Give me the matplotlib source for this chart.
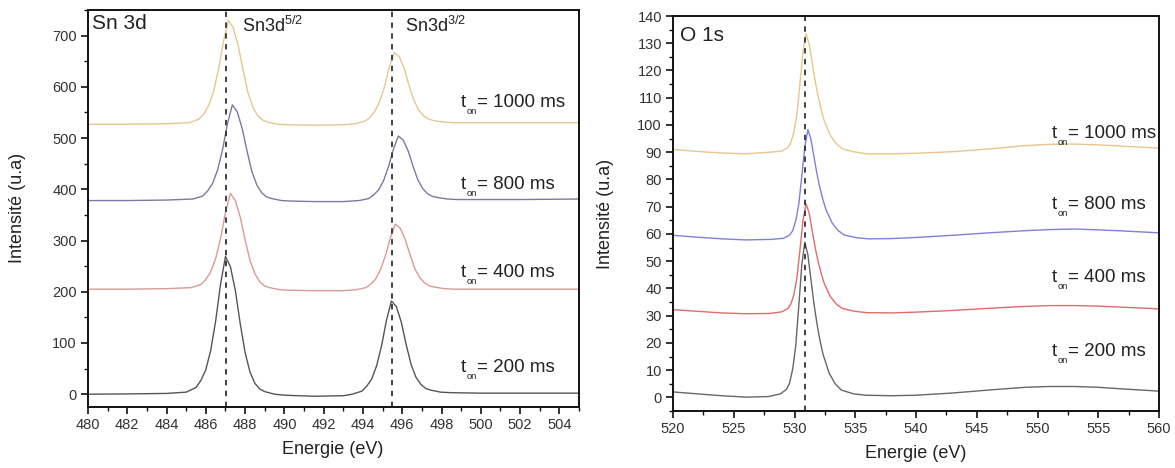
import matplotlib
matplotlib.use("Agg")
import matplotlib.pyplot as plt
from matplotlib.ticker import MultipleLocator

plt.rcParams['font.family'] = ['Liberation Sans', 'DejaVu Sans']
plt.rcParams['mathtext.fontset'] = 'custom'
plt.rcParams['mathtext.rm'] = 'Liberation Sans'
plt.rcParams['mathtext.it'] = 'Liberation Sans:italic'

# ---------------- Sn 3d data ----------------
sn_x_200 = [480, 482, 484, 485.0, 485.5, 485.75, 486.0, 486.25, 486.5, 486.75, 487.0, 487.25, 487.5, 487.75, 488.0,
            488.25, 488.5, 488.75, 489.0, 489.5, 490.0, 491.5, 493.0, 493.45, 493.95, 494.2, 494.45, 494.7, 494.95,
            495.2, 495.45, 495.7, 495.95, 496.2, 496.45, 496.7, 496.95, 497.2, 497.45, 497.95, 498.45, 500, 502, 505]
sn_y_200 = [0, 0.5, 1.5, 4, 13, 27, 48, 86, 143, 215, 269, 249, 203, 138, 81,
            43, 21, 10, 5, 0, -2, -4, -3, 0, 6, 16, 30, 56, 95,
            145, 182, 171, 141, 97, 58, 33, 19, 11, 8, 4, 3, 2, 2, 2]

sn_x_400 = [480, 482, 484, 485.25, 485.75, 486.0, 486.25, 486.5, 486.75, 487.0, 487.25, 487.5, 487.75, 488.0, 488.25,
            488.5, 488.75, 489.0, 489.25, 489.75, 490.25, 491.5, 493.0, 493.65, 494.15, 494.4, 494.65, 494.9, 495.15,
            495.4, 495.65, 495.9, 496.15, 496.4, 496.65, 496.9, 497.15, 497.4, 497.65, 498.15, 498.65, 500, 502, 505]
sn_y_400 = [205, 205, 206, 208, 214, 224, 239, 265, 304, 355, 392, 378, 346, 301, 261,
            235, 219, 211, 208, 204, 203, 202, 202, 204, 208, 215, 225, 244, 271,
            306, 332, 324, 302, 272, 244, 227, 217, 211, 209, 206, 205, 205, 205, 205]

sn_x_800 = [480, 482, 484, 485.35, 485.85, 486.1, 486.35, 486.6, 486.85, 487.1, 487.35, 487.6, 487.85, 488.1, 488.35,
            488.6, 488.85, 489.1, 489.35, 489.85, 490.35, 491.5, 493.0, 493.8, 494.3, 494.55, 494.8, 495.05, 495.3,
            495.55, 495.8, 496.05, 496.3, 496.55, 496.8, 497.05, 497.3, 497.55, 497.8, 498.3, 498.8, 500, 502, 505]
sn_y_800 = [378, 378, 379, 381, 387, 397, 412, 438, 477, 528, 565, 551, 519, 474, 434,
            408, 393, 385, 382, 378, 377, 376, 376, 378, 382, 389, 399, 417, 444,
            478, 504, 496, 475, 445, 418, 401, 391, 386, 384, 381, 380, 380, 380, 381]

sn_x_1000 = [480, 482, 484, 485.15, 485.65, 485.9, 486.15, 486.4, 486.65, 486.9, 487.15, 487.4, 487.65, 487.9, 488.15,
             488.4, 488.65, 488.9, 489.15, 489.65, 490.15, 491.5, 493.0, 493.6, 494.1, 494.35, 494.6, 494.85, 495.1,
             495.35, 495.6, 495.85, 496.1, 496.35, 496.6, 496.85, 497.1, 497.35, 497.6, 498.1, 498.6, 500, 502, 505]
sn_y_1000 = [527, 527, 528, 530, 537, 547, 564, 592, 635, 689, 730, 715, 680, 632, 588,
             560, 543, 535, 531, 527, 526, 525, 526, 528, 533, 540, 552, 571, 601,
             640, 667, 659, 636, 602, 573, 554, 543, 537, 534, 531, 530, 530, 530, 530]

# ---------------- O 1s data ----------------
o_x_200 = [520, 522, 524, 526, 527.85, 528.85, 529.35, 529.6, 529.85, 530.1, 530.35, 530.6, 530.85, 531.1, 531.35,
           531.6, 531.85, 532.1, 532.35, 532.85, 533.35, 533.85, 534.85, 535.85, 538, 540, 543, 546, 549, 551, 553,
           555, 557, 560]
o_y_200 = [2.0, 1.3, 0.6, 0.1, 0.3, 1.3, 3.0, 5.3, 10.4, 18.8, 33.4, 48.6, 57.0, 52.4, 43.4,
           34.4, 27.0, 20.8, 15.8, 8.9, 5.0, 2.7, 1.3, 0.8, 0.6, 0.8, 1.6, 2.7, 3.7, 4.0, 4.0,
           3.7, 3.1, 2.3]

o_x_400 = [520, 522, 524, 526, 527.95, 528.95, 529.45, 529.7, 529.95, 530.2, 530.45, 530.7, 530.95, 531.2, 531.45,
           531.7, 531.95, 532.2, 532.45, 532.95, 533.45, 533.95, 534.95, 535.95, 538, 540, 543, 546, 549, 551, 553,
           555, 557, 560]
o_y_400 = [32.2, 31.6, 31.0, 30.7, 30.8, 31.4, 32.6, 34.2, 37.8, 43.8, 54.2, 65.0, 71.0, 67.8, 61.4,
           55.0, 49.8, 45.4, 41.8, 37.0, 34.2, 32.6, 31.6, 31.1, 31.0, 31.3, 31.9, 32.7, 33.4, 33.7, 33.7,
           33.5, 33.1, 32.5]

o_x_800 = [520, 522, 524, 526, 528.1, 529.1, 529.6, 529.85, 530.1, 530.35, 530.6, 530.85, 531.1, 531.35, 531.6,
           531.85, 532.1, 532.35, 532.6, 533.1, 533.6, 534.1, 535.1, 536.1, 538, 540, 543, 546, 549, 551, 553,
           555, 557, 560]
o_y_800 = [59.5, 58.8, 58.2, 57.8, 58.0, 58.4, 59.6, 61.2, 64.8, 70.8, 81.2, 92.0, 98.3, 94.8, 88.4,
           82.0, 76.8, 72.4, 68.8, 64.0, 61.2, 59.6, 58.6, 58.2, 58.3, 58.7, 59.5, 60.4, 61.2, 61.6, 61.8,
           61.5, 61.1, 60.4]

o_x_1000 = [520, 522, 524, 526, 527.95, 528.95, 529.45, 529.7, 529.95, 530.2, 530.45, 530.7, 530.95, 531.2, 531.45,
            531.7, 531.95, 532.2, 532.45, 532.95, 533.45, 533.95, 534.95, 535.95, 538, 540, 543, 546, 549, 551, 553,
            555, 557, 560]
o_y_1000 = [91.0, 90.3, 89.7, 89.4, 90.0, 90.4, 91.7, 93.5, 97.4, 103.9, 115.2, 127.0, 133.5, 130.0, 123.1,
            116.1, 110.4, 105.6, 101.5, 96.2, 93.1, 91.2, 90.1, 89.4, 89.4, 89.6, 90.2, 91.2, 92.4, 92.9, 93.0,
            92.7, 92.2, 91.5]

# labels
series_labels = ['1000', '800', '400', '200']
sn_ref_lines = [487.03, 495.48]
o_ref_line = 530.86
sn_label_y = [574, 414, 243, 58]
o_label_y = [99, 73, 46, 19]

sn_colors = {'1000': '#e6c791', '800': '#7a7aa0', '400': '#d99a98', '200': '#555555'}
o_colors = {'1000': '#e8c68e', '800': '#7f7fdc', '400': '#e06c6c', '200': '#666666'}

W, H = 1175, 468
fig = plt.figure(figsize=(W / 100, H / 100), dpi=100)

def px_axes(l, r, t, b):
    return fig.add_axes([l / W, 1 - b / H, (r - l) / W, (b - t) / H])

ax1 = px_axes(88, 579, 10, 407)
ax2 = px_axes(673, 1159, 16, 411)

tick_col = '#333333'
for ax in (ax1, ax2):
    for s in ax.spines.values():
        s.set_linewidth(1.4)
        s.set_color('#111111')
    ax.tick_params(which='major', direction='out', length=5, width=1.2, labelsize=10.5,
                   colors='#111111', labelcolor=tick_col, pad=3)
    ax.tick_params(which='minor', direction='out', length=3, width=1.0, colors='#111111')


def ton_label(ax, x, y, lab, fs):
    """t with a small, low 'on' subscript followed by '= ... ms'."""
    t1 = ax.text(x, y, 't', fontsize=fs, ha='left', va='baseline', color='#222222')
    fig.canvas.draw()
    bb = t1.get_window_extent()
    inv = ax.transData.inverted()
    x_end = inv.transform((bb.x1, bb.y0))[0]
    ax.annotate('on', xy=(x_end, y), xytext=(0, -5), textcoords='offset points',
                fontsize=fs * 0.5, ha='left', va='baseline', color='#222222')
    ax.annotate('= ' + lab + ' ms', xy=(x_end, y), xytext=(fs * 0.58, 0), textcoords='offset points',
                fontsize=fs, ha='left', va='baseline', color='#222222')


# Sn panel
sn_data = {'200': (sn_x_200, sn_y_200), '400': (sn_x_400, sn_y_400),
           '800': (sn_x_800, sn_y_800), '1000': (sn_x_1000, sn_y_1000)}
for k in ['200', '400', '800', '1000']:
    x, y = sn_data[k]
    ax1.plot(x, y, color=sn_colors[k], lw=1.0)
for xv in sn_ref_lines:
    ax1.axvline(xv, color='#333333', lw=1.3, ls=(0, (3, 3)))
ax1.set_xlim(480, 505)
ax1.set_ylim(-25, 750)
ax1.xaxis.set_major_locator(MultipleLocator(2))
ax1.xaxis.set_minor_locator(MultipleLocator(1))
ax1.yaxis.set_major_locator(MultipleLocator(100))
ax1.yaxis.set_minor_locator(MultipleLocator(50))
ax1.text(0.008, 0.99, 'Sn 3d', transform=ax1.transAxes, fontsize=15, va='top', ha='left', color='#222222')
ax1.text(487.85, 708, r'Sn3d$^{\mathregular{5/2}}$', fontsize=13, ha='left', va='baseline', color='#222222')
ax1.text(496.15, 708, r'Sn3d$^{\mathregular{3/2}}$', fontsize=13, ha='left', va='baseline', color='#222222')

# O panel
o_data = {'200': (o_x_200, o_y_200), '400': (o_x_400, o_y_400),
          '800': (o_x_800, o_y_800), '1000': (o_x_1000, o_y_1000)}
for k in ['200', '400', '800', '1000']:
    x, y = o_data[k]
    ax2.plot(x, y, color=o_colors[k], lw=1.0)
ax2.axvline(o_ref_line, color='#333333', lw=1.3, ls=(0, (3, 3)))
ax2.set_xlim(520, 560)
ax2.set_ylim(-5, 140)
ax2.xaxis.set_major_locator(MultipleLocator(5))
ax2.xaxis.set_minor_locator(MultipleLocator(2.5))
ax2.yaxis.set_major_locator(MultipleLocator(10))
ax2.yaxis.set_minor_locator(MultipleLocator(5))
ax2.text(0.015, 0.975, 'O 1s', transform=ax2.transAxes, fontsize=15, va='top', ha='left', color='#222222')

# t_on labels (baseline positions)
for lab, yv in zip(series_labels, sn_label_y):
    ton_label(ax1, 499.0, yv - 14, lab, 13.5)
for lab, yv in zip(series_labels, o_label_y):
    ton_label(ax2, 551.2, yv - 3.7, lab, 13.5)

# axis labels
fig.text(333 / W, 1 - 450 / H, 'Energie (eV)', fontsize=13, ha='center', va='center', color='#222222')
fig.text(916 / W, 1 - 454 / H, 'Energie (eV)', fontsize=13, ha='center', va='center', color='#222222')
fig.text(18 / W, 1 - 208 / H, 'Intensité (u.a)', fontsize=13, ha='center', va='center', rotation=90,
         color='#222222')
fig.text(606 / W, 1 - 214 / H, 'Intensité (u.a)', fontsize=13, ha='center', va='center', rotation=90,
         color='#222222')

fig.savefig('out.png', dpi=100)
